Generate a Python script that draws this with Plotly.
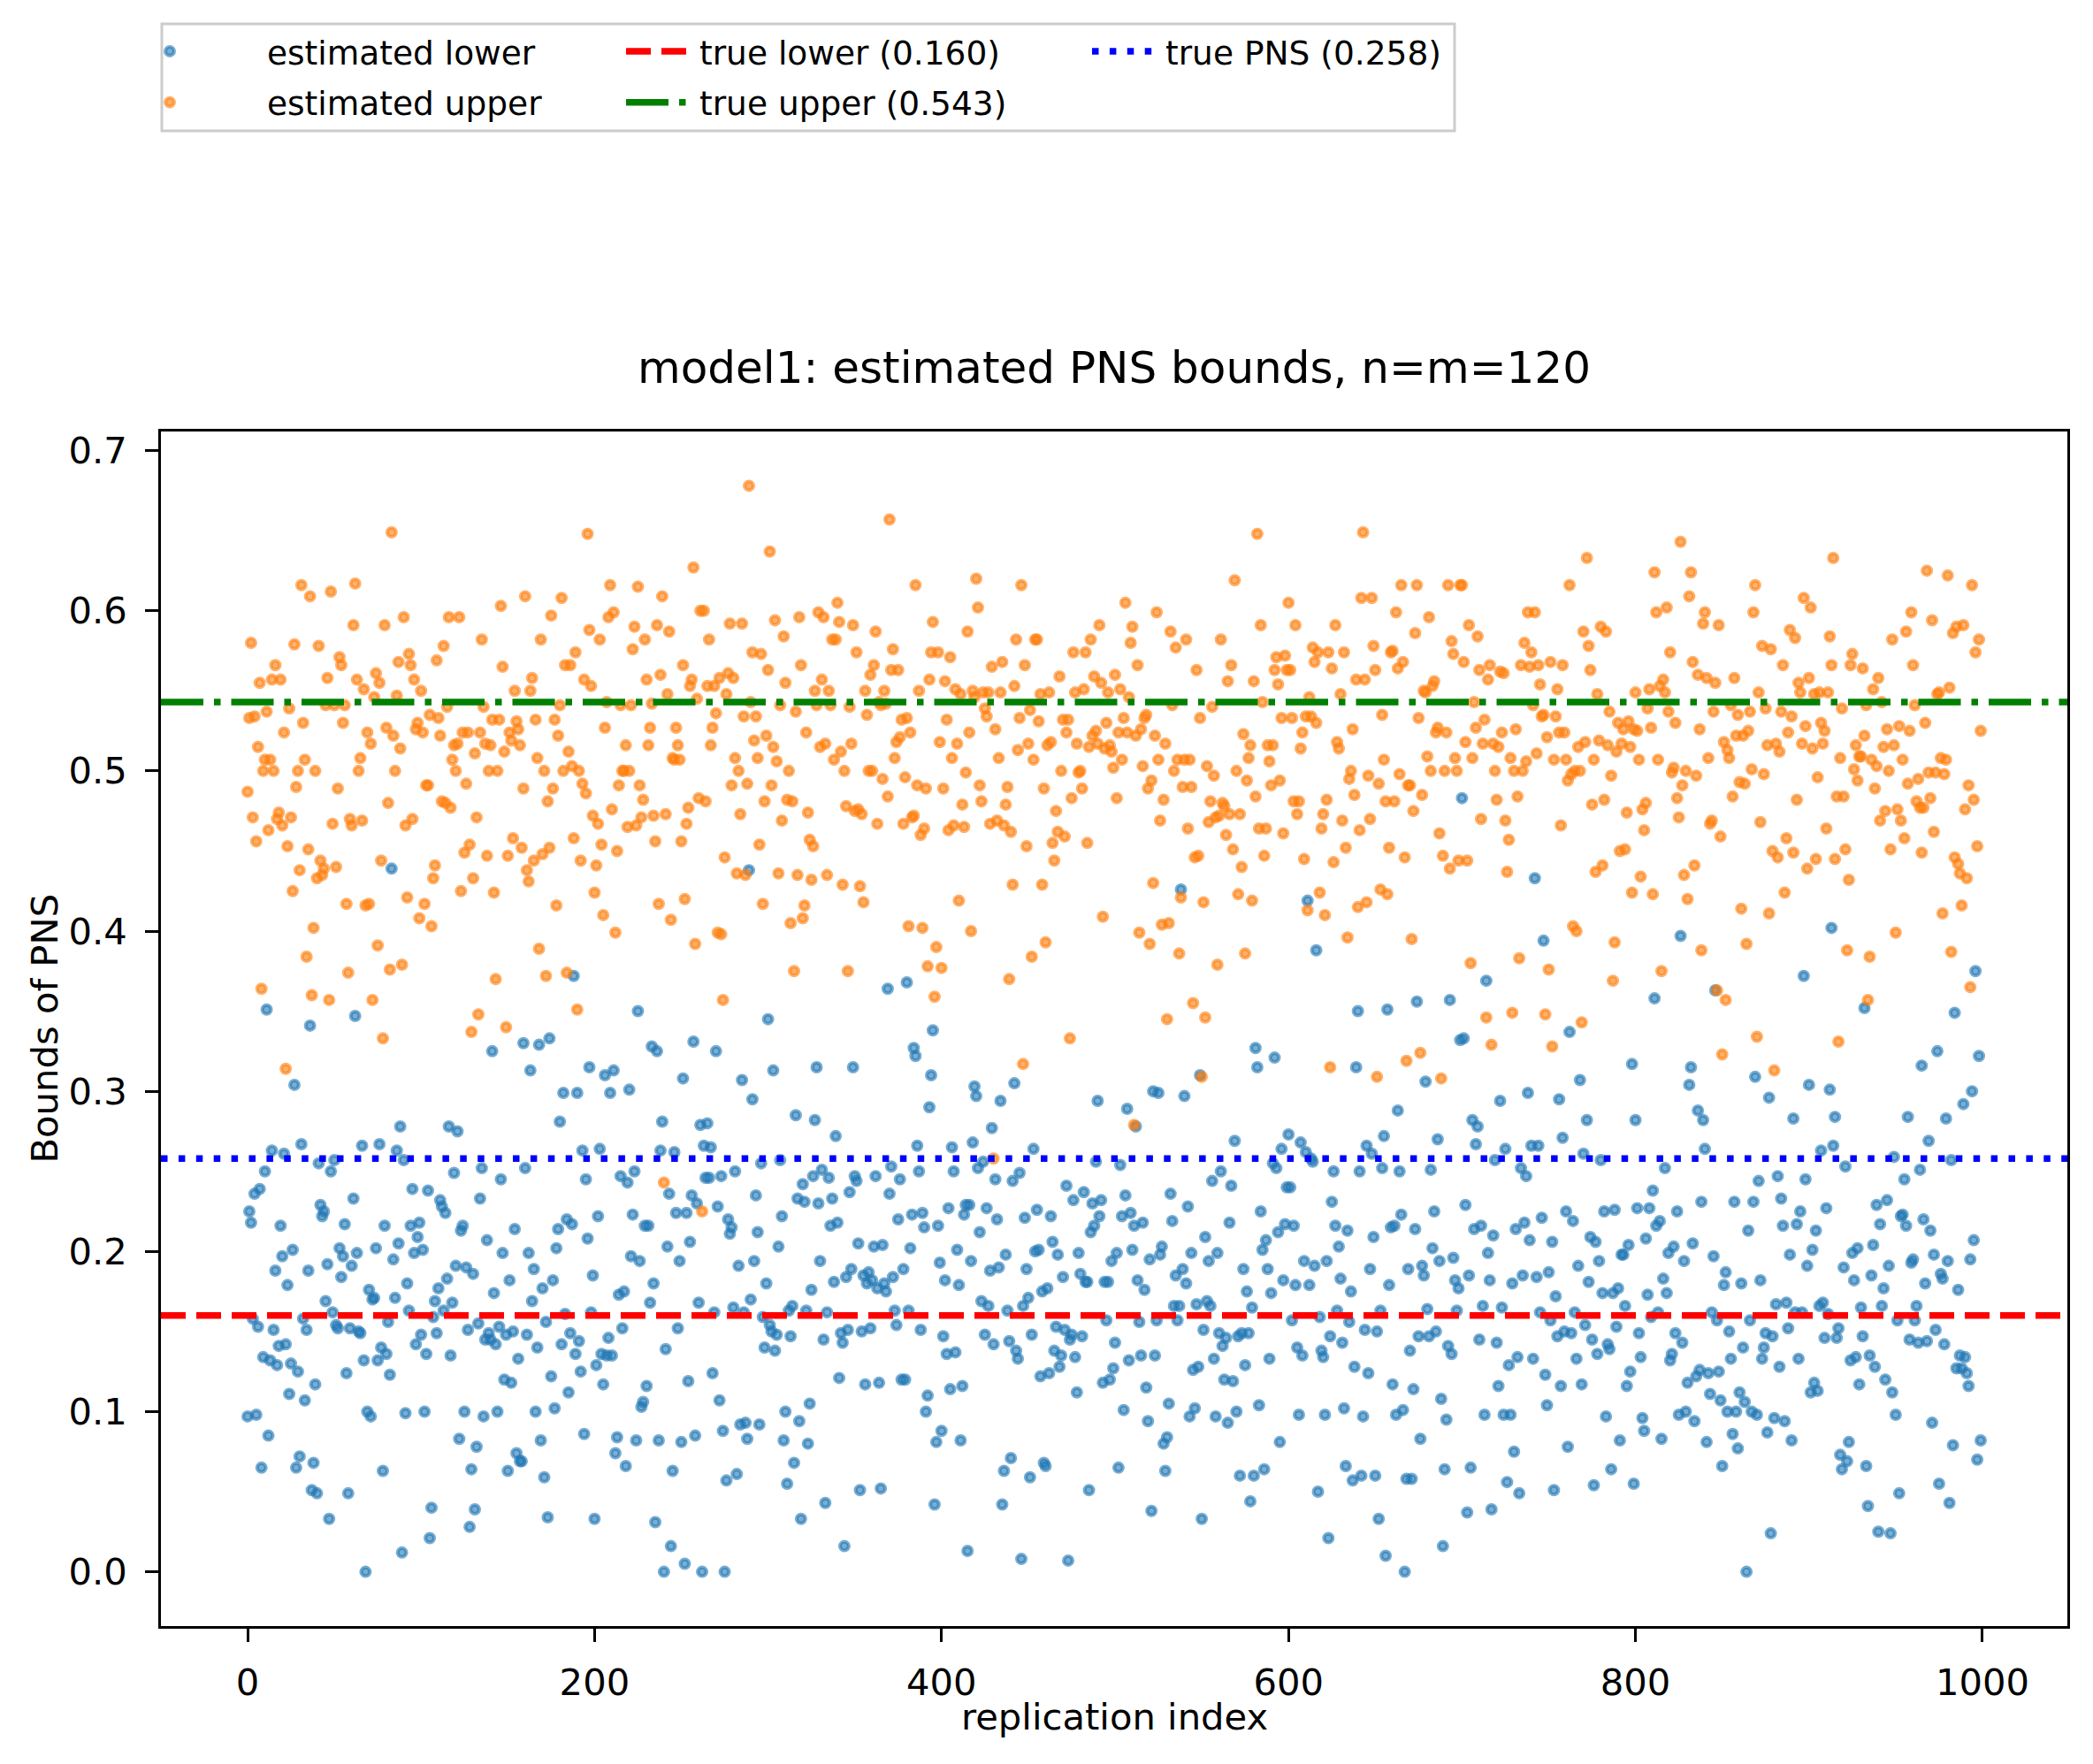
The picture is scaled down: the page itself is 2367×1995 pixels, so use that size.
import plotly.graph_objects as go

# ---------------- data ----------------
estimated_lower = [
    # 0-99
    .097,.225,.218,.158,.236,.098,.153,.239,.065,.134,
    .250,.351,.085,.132,.263,.151,.188,.129,.141,.216,
    .197,.261,.142,.179,.111,.130,.201,.304,.065,.125,
    .072,.267,.158,.107,.151,.188,.341,.051,.068,.117,
    .049,.255,.229,.222,.225,.169,.192,.033,.250,.162,
    .257,.154,.152,.202,.184,.197,.217,.124,.049,.152,
    .191,.233,.347,.199,.150,.149,.266,.132,.000,.100,
    .176,.097,.170,.171,.202,.132,.267,.140,.063,.216,
    .136,.156,.123,.439,.195,.171,.263,.205,.278,.012,
    .257,.099,.180,.163,.216,.239,.199,.142,.209,.218,
    # 100-199
    .148,.201,.100,.136,.238,.021,.040,.159,.169,.149,
    .177,.232,.228,.163,.224,.183,.278,.135,.168,.249,
    .191,.275,.083,.213,.216,.100,.190,.151,.028,.064,
    .186,.039,.078,.155,.233,.252,.097,.145,.207,.149,
    .145,.325,.174,.142,.100,.153,.245,.199,.120,.148,
    .063,.182,.118,.150,.214,.074,.133,.069,.069,.330,
    .252,.148,.199,.313,.169,.189,.100,.140,.329,.082,
    .177,.059,.156,.034,.333,.122,.182,.102,.202,.214,
    .281,.142,.299,.161,.220,.112,.149,.217,.372,.136,
    .299,.144,.125,.263,.086,.245,.208,.315,.162,.185,
    # 200-299
    .033,.129,.222,.264,.136,.117,.310,.135,.146,.299,
    .135,.313,.074,.084,.173,.247,.152,.175,.066,.243,
    .301,.197,.223,.250,.082,.350,.194,.103,.106,.216,
    .116,.216,.168,.328,.180,.031,.325,.082,.263,.281,
    .000,.139,.203,.236,.016,.063,.262,.224,.152,.194,
    .081,.308,.005,.224,.119,.206,.235,.331,.085,.230,
    .168,.279,.000,.266,.246,.280,.246,.265,.124,.162,
    .325,.228,.107,.247,.088,.000,.057,.220,.211,.215,
    .165,.250,.061,.191,.092,.307,.162,.093,.083,.438,
    .170,.295,.194,.235,.212,.092,.255,.159,.140,.180,
    # 300-399
    .345,.154,.150,.313,.138,.148,.203,.257,.222,.082,
    .100,.055,.163,.147,.166,.068,.285,.233,.094,.033,
    .242,.231,.163,.080,.105,.176,.247,.282,.315,.230,
    .194,.251,.145,.043,.162,.246,.216,.233,.181,.272,
    .218,.121,.149,.143,.016,.184,.151,.237,.189,.315,
    .247,.244,.205,.051,.150,.185,.117,.180,.187,.152,
    .182,.203,.247,.177,.118,.052,.204,.180,.175,.364,
    .236,.253,.184,.163,.154,.220,.245,.120,.189,.120,
    .368,.163,.202,.223,.327,.322,.266,.250,.151,.224,
    .215,.100,.110,.290,.310,.338,.042,.081,.216,.193,
    # 400-499
    .088,.147,.182,.136,.227,.114,.265,.250,.137,.201,
    .179,.082,.116,.223,.229,.013,.229,.194,.268,.303,
    .297,.252,.212,.169,.256,.148,.227,.166,.188,.277,
    .142,.245,.220,.190,.294,.042,.063,.198,.163,.144,
    .071,.244,.305,.138,.133,.249,.008,.166,.221,.189,
    .171,.059,.148,.264,.200,.226,.201,.122,.175,.068,
    .066,.177,.124,.222,.206,.138,.153,.198,.128,.135,
    .184,.151,.241,.007,.145,.148,.232,.134,.112,.199,
    .186,.147,.237,.181,.181,.051,.212,.230,.216,.256,
    .294,.222,.232,.118,.181,.157,.181,.120,.194,.127,
    # 500-599
    .143,.199,.065,.254,.222,.101,.235,.289,.132,.224,
    .201,.216,.278,.182,.156,.135,.218,.176,.115,.094,
    .195,.038,.300,.135,.157,.299,.198,.203,.080,.063,
    .084,.105,.236,.219,.166,.185,.157,.166,.426,.189,
    .297,.180,.228,.097,.199,.126,.102,.167,.128,.310,
    .033,.151,.209,.169,.194,.166,.244,.133,.097,.199,
    .149,.250,.141,.120,.146,.093,.218,.241,.119,.269,
    .100,.147,.060,.149,.189,.129,.175,.149,.044,.165,
    .060,.327,.315,.104,.225,.201,.064,.207,.189,.133,
    .174,.255,.321,.252,.212,.081,.264,.182,.217,.240,
    # 600-699
    .273,.240,.157,.216,.179,.140,.098,.268,.135,.194,
    .262,.419,.179,.258,.256,.191,.388,.050,.159,.138,
    .134,.098,.194,.021,.147,.231,.250,.216,.163,.203,
    .183,.143,.102,.066,.213,.156,.175,.057,.128,.315,
    .350,.250,.060,.097,.151,.266,.124,.189,.261,.209,
    .060,.150,.033,.163,.252,.272,.010,.351,.179,.215,
    .117,.216,.098,.288,.250,.223,.101,.000,.058,.189,
    .138,.058,.114,.214,.356,.147,.083,.191,.185,.306,
    .164,.147,.251,.202,.225,.150,.270,.194,.108,.016,
    .064,.095,.141,.357,.136,.196,.182,.163,.177,.332,
    # 700-799
    .483,.333,.229,.037,.185,.065,.282,.214,.267,.278,
    .145,.216,.166,.098,.369,.199,.182,.039,.210,.257,
    .143,.116,.294,.165,.098,.264,.056,.129,.098,.180,
    .075,.214,.134,.049,.252,.185,.218,.247,.299,.207,
    .266,.133,.433,.184,.266,.162,.221,.394,.123,.104,
    .187,.157,.206,.051,.172,.147,.295,.116,.271,.150,
    .225,.078,.337,.149,.219,.162,.133,.191,.307,.117,
    .261,.154,.282,.181,.209,.145,.054,.206,.136,.194,
    .257,.174,.225,.097,.142,.139,.064,.174,.226,.153,
    .177,.082,.198,.198,.166,.116,.204,.125,.317,.055,
    # 800-899
    .282,.227,.149,.134,.096,.088,.208,.173,.227,.159,
    .238,.358,.216,.162,.219,.083,.183,.252,.174,.199,
    .132,.136,.203,.149,.225,.098,.397,.143,.194,.100,
    .118,.304,.315,.205,.094,.122,.288,.126,.231,.282,
    .264,.081,.124,.111,.162,.197,.363,.157,.125,.107,
    .066,.179,.187,.100,.150,.133,.086,.231,.100,.077,
    .112,.180,.140,.106,.000,.213,.157,.100,.231,.309,
    .098,.244,.182,.133,.140,.149,.087,.296,.024,.147,
    .096,.167,.247,.128,.233,.216,.094,.168,.152,.198,
    .082,.283,.162,.217,.133,.225,.162,.372,.245,.191,
    # 900-999
    .304,.112,.201,.118,.213,.113,.166,.263,.168,.146,
    .227,.161,.301,.402,.266,.284,.146,.152,.073,.064,
    .190,.253,.069,.081,.132,.199,.182,.134,.202,.117,
    .165,.147,.352,.066,.041,.135,.185,.204,.128,.229,
    .025,.217,.166,.177,.120,.232,.191,.024,.112,.259,
    .098,.157,.049,.222,.223,.245,.216,.284,.145,.193,
    .195,.157,.166,.143,.251,.316,.220,.180,.144,.269,
    .213,.093,.198,.151,.325,.055,.186,.183,.142,.283,
    .194,.043,.257,.079,.349,.127,.176,.135,.127,.292,
    .134,.124,.116,.195,.300,.207,.375,.070,.322,.082,
]

estimated_upper = [
    # 0-99
    .487,.533,.580,.471,.534,.456,.515,.555,.364,.500,
    .507,.537,.463,.507,.557,.500,.566,.470,.474,.557,
    .466,.524,.314,.453,.539,.471,.425,.579,.490,.500,
    .438,.616,.530,.507,.384,.451,.609,.360,.402,.500,
    .433,.578,.444,.435,.439,.541,.558,.357,.612,.467,
    .541,.440,.489,.571,.566,.530,.541,.417,.374,.470,
    .466,.591,.617,.557,.500,.508,.469,.551,.416,.524,
    .417,.517,.357,.546,.561,.391,.555,.444,.333,.591,
    .527,.480,.376,.649,.522,.500,.547,.568,.514,.379,
    .596,.466,.421,.573,.566,.470,.557,.526,.530,.408,
    # 100-199
    .550,.524,.417,.491,.491,.535,.403,.433,.441,.569,
    .533,.522,.481,.578,.480,.540,.596,.477,.507,.516,
    .500,.517,.596,.425,.524,.449,.492,.524,.454,.337,
    .433,.511,.471,.348,.524,.582,.540,.517,.447,.500,
    .516,.532,.424,.370,.500,.532,.603,.565,.512,.340,
    .447,.524,.519,.458,.550,.531,.526,.516,.452,.489,
    .609,.438,.431,.550,.558,.444,.532,.508,.389,.582,
    .448,.500,.372,.481,.452,.597,.489,.532,.416,.522,
    .541,.608,.500,.566,.374,.512,.566,.503,.458,.574,
    .351,.500,.444,.492,.557,.486,.648,.588,.553,.472,
    # 200-299
    .424,.441,.467,.582,.454,.410,.527,.543,.596,.616,
    .476,.599,.399,.450,.491,.541,.500,.500,.516,.465,
    .500,.541,.576,.590,.466,.615,.491,.471,.482,.582,
    .557,.516,.527,.542,.472,.456,.591,.417,.560,.609,
    .243,.473,.548,.587,.407,.508,.507,.527,.516,.507,
    .456,.566,.420,.467,.477,.553,.557,.627,.392,.545,
    .483,.600,.225,.600,.481,.553,.582,.516,.527,.553,
    .536,.399,.558,.398,.357,.446,.548,.561,.592,.491,
    .558,.508,.436,.500,.473,.592,.534,.435,.492,.678,
    .543,.574,.519,.534,.508,.454,.573,.417,.481,.522,
    # 300-399
    .563,.637,.491,.515,.594,.506,.436,.541,.469,.584,
    .555,.482,.500,.405,.481,.375,.537,.435,.596,.566,
    .408,.416,.524,.474,.457,.432,.453,.550,.541,.599,
    .515,.557,.596,.517,.435,.550,.541,.582,.507,.582,
    .605,.593,.512,.429,.500,.478,.375,.540,.517,.591,
    .475,.574,.476,.428,.473,.418,.550,.535,.500,.560,
    .500,.566,.587,.467,.543,.541,.495,.550,.542,.484,
    .657,.563,.576,.508,.518,.563,.521,.532,.467,.496,
    .533,.403,.524,.471,.472,.616,.491,.550,.460,.402,
    .464,.489,.378,.557,.574,.593,.359,.390,.574,.518,
    # 400-499
    .377,.489,.556,.532,.463,.571,.508,.466,.551,.517,
    .419,.548,.479,.465,.499,.587,.524,.400,.550,.546,
    .620,.602,.491,.481,.549,.539,.534,.549,.467,.565,
    .258,.526,.469,.508,.549,.568,.466,.479,.490,.370,
    .462,.429,.553,.582,.513,.533,.616,.317,.566,.453,
    .517,.538,.384,.507,.582,.582,.531,.548,.429,.489,
    .393,.516,.549,.518,.455,.444,.475,.462,.559,.500,
    .532,.459,.524,.532,.333,.483,.574,.549,.517,.499,
    .500,.489,.551,.574,.455,.515,.582,.522,.559,.525,
    .517,.591,.555,.409,.514,.530,.549,.516,.512,.502,
    # 500-599
    .560,.483,.524,.551,.507,.533,.605,.524,.546,.580,
    .590,.279,.522,.566,.399,.526,.503,.533,.535,.489,
    .392,.494,.430,.522,.599,.507,.469,.404,.482,.517,
    .345,.405,.587,.541,.500,.577,.507,.386,.421,.490,
    .507,.582,.464,.507,.490,.355,.446,.563,.447,.533,
    .309,.418,.346,.503,.468,.481,.540,.497,.471,.379,
    .472,.582,.480,.478,.460,.556,.473,.566,.451,.619,
    .500,.423,.473,.440,.523,.386,.494,.508,.516,.419,
    .556,.484,.648,.464,.591,.543,.447,.464,.516,.506,
    .491,.516,.563,.571,.554,.494,.533,.461,.572,.563,
    # 600-699
    .605,.563,.533,.481,.591,.473,.481,.514,.524,.445,
    .534,.413,.546,.534,.577,.568,.530,.574,.424,.464,
    .473,.410,.482,.574,.315,.564,.443,.591,.518,.514,
    .548,.469,.574,.452,.396,.495,.500,.526,.485,.557,
    .415,.463,.608,.649,.557,.418,.497,.470,.608,.578,
    .563,.309,.492,.426,.535,.507,.481,.423,.452,.574,
    .575,.481,.599,.564,.498,.616,.568,.446,.319,.491,
    .491,.395,.475,.586,.616,.533,.324,.485,.550,.549,
    .509,.596,.500,.553,.556,.524,.527,.461,.308,.447,
    .500,.524,.616,.439,.581,.573,.508,.500,.444,.616,
    # 700-799
    .616,.568,.518,.444,.591,.380,.508,.543,.527,.584,
    .563,.470,.517,.532,.346,.557,.566,.329,.517,.500,
    .482,.515,.562,.524,.561,.469,.437,.457,.508,.349,
    .500,.526,.484,.383,.566,.500,.580,.506,.599,.565,
    .574,.541,.599,.511,.566,.554,.534,.535,.348,.521,
    .376,.568,.328,.507,.534,.551,.524,.466,.566,.524,
    .507,.494,.616,.498,.403,.500,.400,.515,.500,.343,
    .587,.518,.633,.578,.563,.479,.507,.437,.548,.519,
    .590,.441,.482,.587,.516,.537,.497,.369,.393,.512,
    .530,.450,.517,.526,.451,.474,.531,.515,.424,.526,
    # 800-899
    .549,.525,.507,.434,.476,.463,.480,.539,.551,.527,
    .423,.624,.599,.507,.553,.375,.557,.549,.602,.537,
    .574,.499,.502,.530,.483,.471,.643,.491,.435,.500,
    .420,.609,.624,.568,.441,.497,.560,.526,.388,.592,
    .599,.558,.508,.467,.469,.537,.555,.363,.591,.459,
    .323,.518,.357,.513,.508,.541,.484,.558,.522,.535,
    .493,.414,.522,.492,.392,.525,.537,.501,.599,.616,
    .334,.549,.468,.578,.498,.539,.516,.411,.576,.450,
    .313,.517,.446,.512,.537,.566,.424,.458,.524,.588,
    .534,.449,.583,.482,.555,.549,.517,.608,.528,.439,
    # 900-999
    .558,.602,.514,.548,.445,.496,.549,.530,.517,.525,
    .464,.549,.584,.566,.633,.445,.484,.331,.508,.539,
    .484,.451,.388,.432,.566,.573,.501,.516,.494,.509,
    .509,.564,.522,.541,.357,.384,.507,.551,.489,.503,
    .558,.469,.543,.515,.475,.526,.500,.451,.582,.516,
    .399,.476,.528,.469,.507,.458,.587,.492,.525,.599,
    .566,.541,.481,.495,.477,.449,.477,.530,.625,.499,
    .483,.594,.462,.499,.548,.549,.508,.411,.498,.507,
    .622,.552,.387,.586,.446,.590,.442,.436,.416,.591,
    .476,.433,.491,.365,.616,.482,.574,.453,.582,.525,
]

replication_index = list(range(len(estimated_lower)))
true_lower = 0.160
true_upper = 0.543
true_pns = 0.258

x_tick_values = [0, 200, 400, 600, 800, 1000]
y_tick_values = [0.0, 0.1, 0.2, 0.3, 0.4, 0.5, 0.6, 0.7]
y_tick_labels = ["0.0", "0.1", "0.2", "0.3", "0.4", "0.5", "0.6", "0.7"]

title_text = "model1: estimated PNS bounds, n=m=120"
x_title = "replication index"
y_title = "Bounds of PNS"

# ---------------- styling ----------------
FONT = "DejaVu Sans"
W, H = 2367, 1995
ML, MR, MT, MB = 182, 29, 488, 156
PW, PH = W - ML - MR, H - MT - MB

blue_rgba = "rgba(31,119,180,0.6)"
orange_rgba = "rgba(255,127,14,0.6)"

# axis ranges with matplotlib-like 5% margins
all_vals = estimated_lower + estimated_upper
xmin, xmax = min(replication_index), max(replication_index)
ymin, ymax = min(all_vals), max(all_vals)
xpad = 0.05 * (xmax - xmin)
ypad = 0.05 * (ymax - ymin)


def px_to_paper_x(px):
    return (px - ML) / PW


def px_to_paper_y(py):
    return (H - MB - py) / PH


fig = go.Figure()

MS, MLW = 9.8, 4.2
fig.add_trace(go.Scatter(
    x=replication_index, y=estimated_lower, mode="markers",
    name="estimated lower", legend="legend", legendgroup="a", legendrank=1,
    marker=dict(size=MS, color=blue_rgba, line=dict(width=MLW, color=blue_rgba)),
    hoverinfo="skip",
))
fig.add_trace(go.Scatter(
    x=replication_index, y=estimated_upper, mode="markers",
    name="estimated upper", legend="legend", legendgroup="b", legendrank=2,
    marker=dict(size=MS, color=orange_rgba, line=dict(width=MLW, color=orange_rgba)),
    hoverinfo="skip",
))

LW = 7.5
ref_lines = [
    (true_lower, "red", "28px,12px", f"true lower ({true_lower:.3f})", "legend2", "c", 1),
    (true_upper, "green", "48px,12px,7.5px,12px", f"true upper ({true_upper:.3f})", "legend2", "d", 2),
    (true_pns, "blue", "7.5px,12.4px", f"true PNS ({true_pns:.3f})", "legend3", "e", 1),
]
for yv, col, dash, label, leg, grp, rank in ref_lines:
    fig.add_shape(
        type="line", xref="paper", x0=0, x1=1, yref="y", y0=yv, y1=yv,
        line=dict(color=col, width=LW, dash=dash), layer="above",
        showlegend=True, name=label, legend=leg, legendgroup=grp, legendrank=rank,
    )

# legend frame (matplotlib-style box)
fig.add_shape(
    type="rect", xref="paper", yref="paper",
    x0=px_to_paper_x(183), x1=px_to_paper_x(1645),
    y0=px_to_paper_y(148), y1=px_to_paper_y(27),
    line=dict(color="#cccccc", width=3), fillcolor="rgba(255,255,255,0.8)",
    layer="above",
)

# axis titles
fig.add_annotation(
    text=x_title, xref="paper", yref="paper", x=0.5, y=px_to_paper_y(1942),
    xanchor="center", yanchor="middle", showarrow=False,
    font=dict(family=FONT, size=41.7, color="black"),
)
fig.add_annotation(
    text=y_title, xref="paper", yref="paper", x=px_to_paper_x(50), y=0.5,
    xanchor="center", yanchor="middle", showarrow=False, textangle=-90,
    font=dict(family=FONT, size=41.7, color="black"),
)

leg_common = dict(
    orientation="v", xref="container", yref="container",
    xanchor="left", yanchor="top", bgcolor="rgba(0,0,0,0)", borderwidth=0,
    font=dict(family=FONT, size=37.5, color="black"),
    tracegroupgap=6, itemclick=False, itemdoubleclick=False,
)

axis_common = dict(
    showgrid=False, zeroline=False, showline=True, linecolor="black", linewidth=3.3,
    mirror=True, ticks="outside", ticklen=14.6, tickwidth=3.3, tickcolor="black",
    tickfont=dict(family=FONT, size=41.7, color="black"), automargin=False,
)

LEG_LINE_W = 78
fig.update_layout(
    width=W, height=H,
    margin=dict(l=ML, r=MR, t=MT, b=MB, pad=0, autoexpand=False),
    paper_bgcolor="white", plot_bgcolor="white",
    font=dict(family=FONT, color="black"),
    title=dict(text=title_text, x=0.5, xref="paper", xanchor="center",
               y=1 - 415 / H, yref="container", yanchor="middle",
               font=dict(family=FONT, size=50, color="black")),
    xaxis=dict(range=[xmin - xpad, xmax + xpad], tickvals=x_tick_values,
               ticklabelstandoff=10, **axis_common),
    yaxis=dict(range=[ymin - ypad, ymax + ypad], tickvals=y_tick_values, ticktext=y_tick_labels,
               ticklabelstandoff=12, **axis_common),
    legend=dict(x=82 / W, y=1 - 27 / H, itemwidth=210, **leg_common),
    legend2=dict(x=(791 - LEG_LINE_W - 10) / W, y=1 - 27 / H, itemwidth=LEG_LINE_W, **leg_common),
    legend3=dict(x=(1318 - LEG_LINE_W - 10) / W, y=1 - 27 / H, itemwidth=LEG_LINE_W, **leg_common),
    showlegend=True,
)

fig.write_html("out.html", config={"displayModeBar": False})
